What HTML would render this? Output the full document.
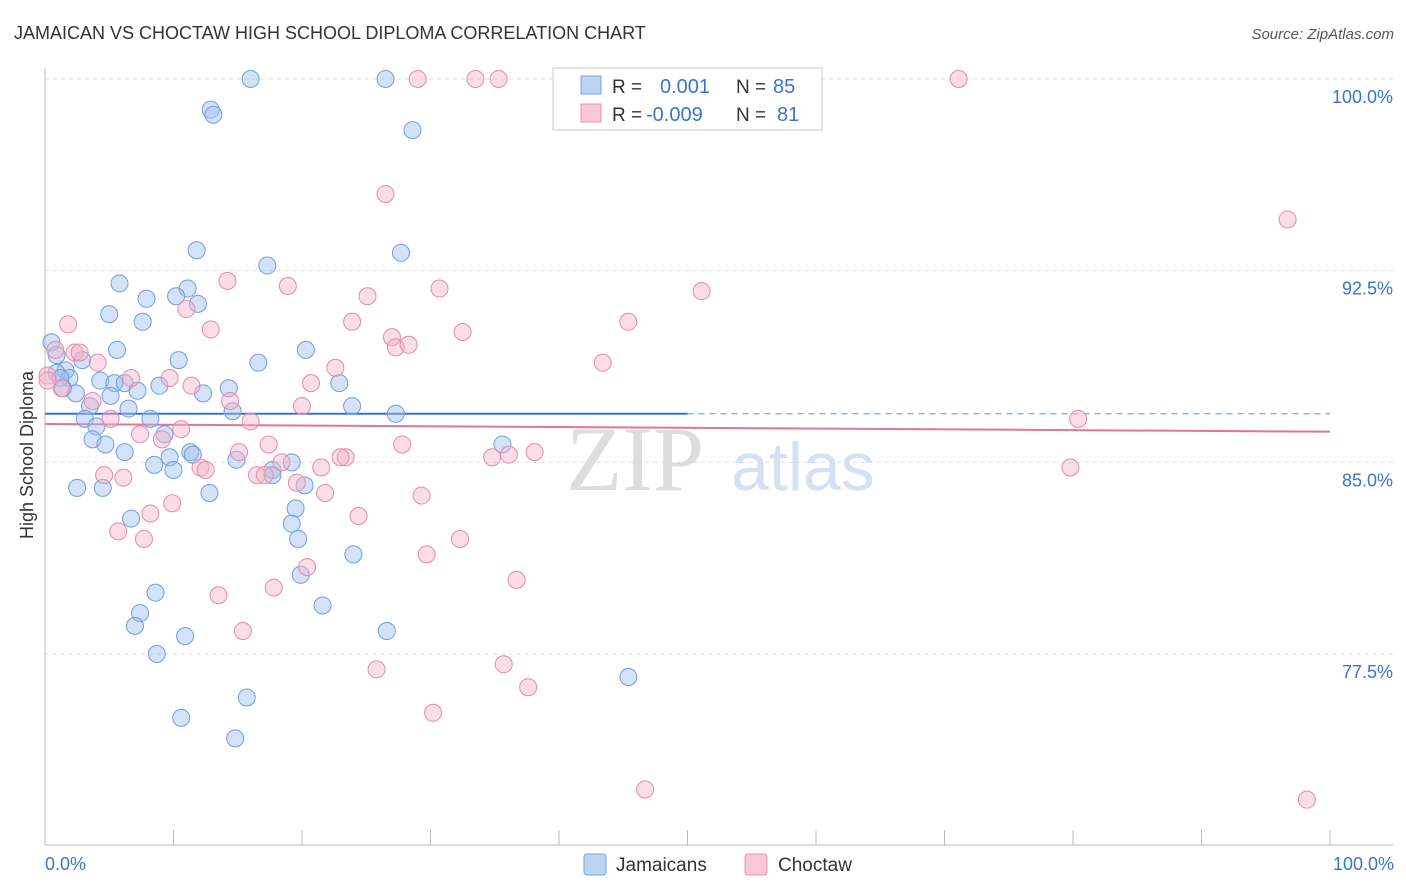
<!DOCTYPE html>
<html><head><meta charset="utf-8">
<style>
body{margin:0;background:#fff;width:1406px;height:892px;overflow:hidden;font-family:"Liberation Sans",sans-serif;}
svg{position:absolute;left:0;top:0;}
</style></head>
<body>
<svg id="chart" width="1406" height="892">
<text x="14" y="39" font-size="18" fill="#333">JAMAICAN VS CHOCTAW HIGH SCHOOL DIPLOMA CORRELATION CHART</text>
<text x="1394" y="39" font-size="15" fill="#555" font-style="italic" text-anchor="end">Source: ZipAtlas.com</text>
<text x="33" y="455" font-size="18" fill="#333" text-anchor="middle" transform="rotate(-90 33 455)">High School Diploma</text>
<g>
<text x="635" y="490" font-size="92" fill="#ddd" font-family="Liberation Serif,serif" text-anchor="middle">ZIP</text>
<text x="803" y="490" font-size="68" fill="#d3e1f3" text-anchor="middle">atlas</text>
</g>
<g id="grid"></g>
<g id="axes"></g>
<g id="trend"></g>
<g id="points"></g>
<g>
<rect x="553" y="68" width="269" height="62" fill="#fff" stroke="#ccc"/>
<rect x="581" y="76" width="20" height="18" fill="#bcd3f2" stroke="#7aa5e0"/>
<rect x="581" y="104" width="20" height="18" fill="#f8c8d7" stroke="#e893b0"/>
<text x="612" y="93" font-size="19" fill="#333">R =</text>
<text x="660" y="93" font-size="20" fill="#3b74d0">0.001</text>
<text x="736" y="93" font-size="19" fill="#333">N =</text>
<text x="773" y="93" font-size="20" fill="#3b74d0">85</text>
<text x="612" y="121" font-size="19" fill="#333">R =</text>
<text x="646" y="121" font-size="20" fill="#3b74d0">-0.009</text>
<text x="736" y="121" font-size="19" fill="#333">N =</text>
<text x="777" y="121" font-size="20" fill="#3b74d0">81</text>
</g>
<g>
<rect x="584" y="854" width="22" height="21" rx="3" fill="#bcd3f2" stroke="#7aa5e0"/>
<text x="616" y="871" font-size="19" fill="#333">Jamaicans</text>
<rect x="745" y="854" width="22" height="21" rx="3" fill="#f8c8d7" stroke="#e893b0"/>
<text x="778" y="871" font-size="19" fill="#333">Choctaw</text>
</g>
</svg>
<script>
const yTicks=[100,92.5,85,77.5];
const yTickLabels=["100.0%","92.5%","85.0%","77.5%"];
const xTickLabels=["0.0%","100.0%"];
const blueX=[16.0,26.5,12.9,13.1,28.6,11.8,27.7,17.3,5.8,11.1,7.9,10.2,11.9,5.0,7.6,0.5,5.6,20.3,10.4,16.6,0.9,2.9,1.6,0.9,1.9,1.2,4.3,5.4,6.2,8.9,22.9,1.4,2.4,14.3,12.3,5.1,7.2,3.5,6.5,14.6,23.9,27.3,3.1,8.2,4.0,3.7,4.7,9.3,6.2,35.6,11.3,11.5,9.7,8.5,10.0,14.9,17.7,19.2,17.7,2.5,4.5,12.8,20.2,6.7,19.5,19.2,19.7,24.0,19.9,8.6,7.4,7.0,21.6,10.9,26.6,8.7,45.4,15.7,10.6,14.8];
const blueY=[100,100,98.8,98.6,98.0,93.3,93.2,92.7,92.0,91.8,91.4,91.5,91.2,90.8,90.5,89.7,89.4,89.4,89.0,88.9,89.2,89.0,88.6,88.5,88.3,88.3,88.2,88.1,88.1,88.0,88.1,87.9,87.7,87.9,87.7,87.6,87.8,87.2,87.1,87.0,87.2,86.9,86.7,86.7,86.4,85.9,85.7,86.1,85.4,85.7,85.4,85.3,85.2,84.9,84.7,85.1,84.7,85.0,84.5,84.0,84.0,83.8,84.1,82.8,83.2,82.6,82.0,81.4,80.6,79.9,79.1,78.6,79.4,78.2,78.4,77.5,76.6,75.8,75.0,74.2];
const pinkX=[29.0,33.5,35.3,71.1,26.5,96.7,14.2,18.9,30.7,51.1,25.1,11.0,1.8,23.9,45.4,12.9,32.5,27.0,27.3,28.3,0.8,2.3,2.7,4.1,43.4,22.6,0.2,9.7,6.7,20.7,11.4,1.3,14.4,20.0,3.7,5.1,16.0,80.4,10.6,7.4,9.1,27.8,17.4,15.1,23.4,23.0,36.1,38.1,34.8,18.4,21.5,12.1,12.5,79.8,16.5,17.1,4.6,6.1,19.6,21.8,29.3,9.9,8.2,24.4,5.7,7.7,32.3,29.7,20.4,17.8,36.7,13.5,15.4,25.8,35.7,37.6,30.2,46.7,98.2,0.2];
const pinkY=[100,100,100,100,95.5,94.5,92.1,91.9,91.8,91.7,91.5,91.0,90.4,90.5,90.5,90.2,90.1,89.9,89.5,89.6,89.4,89.3,89.3,88.9,88.9,88.7,88.4,88.3,88.3,88.1,88.0,87.9,87.4,87.2,87.4,86.7,86.6,86.7,86.3,86.1,85.9,85.7,85.7,85.4,85.2,85.2,85.3,85.4,85.2,85.0,84.8,84.8,84.7,84.8,84.5,84.5,84.5,84.4,84.2,83.8,83.7,83.4,83.0,82.9,82.3,82.0,82.0,81.4,80.9,80.1,80.4,79.8,78.4,76.9,77.1,76.2,75.2,72.2,71.8,88.2];
const blueTrend=[86.9,86.9];
const pinkTrend=[86.5,86.2];

const NS="http://www.w3.org/2000/svg";
const X0=45,X1=1330,Y100=79,PX=191.67/7.5;
function xs(v){return X0+(X1-X0)*v/100;}
function ys(v){return Y100+(100-v)*PX;}
function mk(tag,attrs,parent){const e=document.createElementNS(NS,tag);for(const k in attrs)e.setAttribute(k,attrs[k]);parent.appendChild(e);return e;}
const grid=document.getElementById('grid'),axes=document.getElementById('axes'),trend=document.getElementById('trend'),pts=document.getElementById('points');
yTicks.forEach((t,i)=>{
  const l=mk('line',{x1:X0,x2:1393,y1:ys(t),y2:ys(t),stroke:'#ddd','stroke-dasharray':'4 4'},grid);
  
  
  const tx=mk('text',{x:1393,y:ys(t)+24,'font-size':18,fill:'#3b74d0','text-anchor':'end'},grid);
  tx.textContent=yTickLabels[i];
  
  
});
const ya=mk('line',{x1:X0,x2:X0,y1:68,y2:845,stroke:'#bbb'},axes);


const xa=mk('line',{x1:X0,x2:1393,y1:845,y2:845,stroke:'#bbb'},axes);


for(let i=0;i<=10;i++){
  const t=mk('line',{x1:xs(i*10),x2:xs(i*10),y1:830,y2:845,stroke:'#bbb'},axes);
  
  
}
[[0,'start',45],[100,'end',1394]].forEach((d,i)=>{
  const t=mk('text',{x:d[2],y:870,'font-size':18,fill:'#3b74d0','text-anchor':d[1]},axes);
  t.textContent=xTickLabels[i];
  
  
});
function drawPts(xa,ya,fill,stroke,name){
  xa.forEach((x,i)=>{
    const c=mk('circle',{cx:xs(x),cy:ys(ya[i]),r:8.5,fill:fill,'fill-opacity':0.45,stroke:stroke,'stroke-width':1},pts);
    
    
  });
}
drawPts(blueX,blueY,'#9dbfee','#6f9edd','jamaican-point');
drawPts(pinkX,pinkY,'#f5b3c8','#e68aab','choctaw-point');
const b1=mk('line',{x1:xs(0),x2:xs(50),y1:ys(blueTrend[0]),y2:ys(blueTrend[0]+(blueTrend[1]-blueTrend[0])*0.5),stroke:'#3b74d0','stroke-width':2},trend);


const b2=mk('line',{x1:xs(50),x2:xs(100),y1:ys(blueTrend[0]+(blueTrend[1]-blueTrend[0])*0.5),y2:ys(blueTrend[1]),stroke:'#7aa5e0','stroke-width':1.2,'stroke-dasharray':'6 5'},trend);


const p1=mk('line',{x1:xs(0),x2:xs(100),y1:ys(pinkTrend[0]),y2:ys(pinkTrend[1]),stroke:'#e5729a','stroke-width':2},trend);


</script>
</body></html>
